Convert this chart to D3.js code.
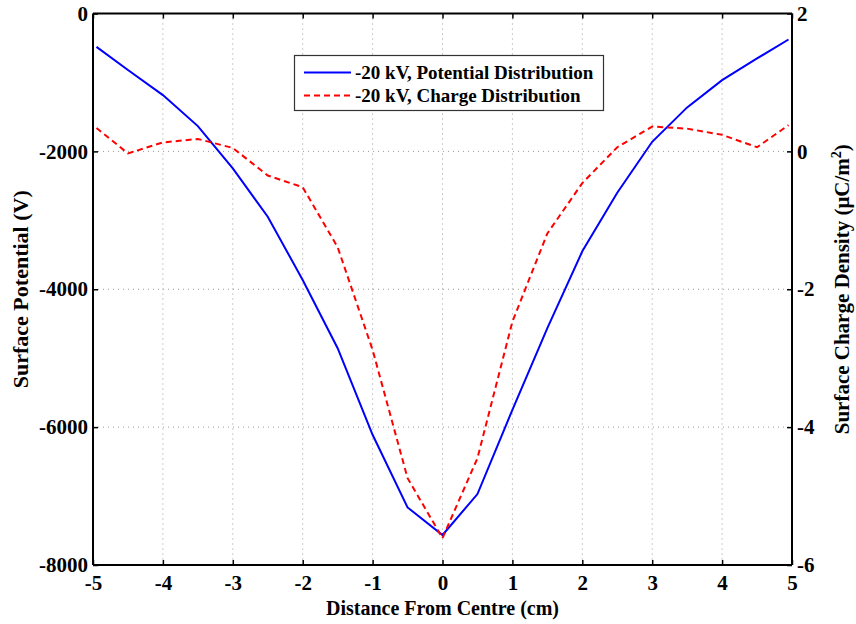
<!DOCTYPE html>
<html><head><meta charset="utf-8">
<script src="https://cdn.jsdelivr.net/npm/d3@7"></script>
<style>
body{margin:0;background:#fff;}
text{font-family:"Liberation Serif","Times New Roman",serif;font-weight:bold;}
</style></head>
<body>
<svg id="c" width="856" height="624"></svg>
<script>
const xPositions = [-4.95,-4.5,-4,-3.5,-3,-2.5,-2,-1.5,-1,-0.5,0,0.5,1,1.5,2,2.5,3,3.5,4,4.5,4.95];
const potential = [-484,-820,-1184,-1633,-2246,-2948,-3865,-4855,-6111,-7165,-7565,-6971,-5749,-4565,-3450,-2600,-1861,-1362,-967,-652,-377];
const charge = [0.34,-0.03,0.13,0.18,0.05,-0.35,-0.52,-1.39,-2.88,-4.74,-5.61,-4.45,-2.47,-1.19,-0.46,0.06,0.36,0.33,0.24,0.06,0.38];
const xTicks = [-5,-4,-3,-2,-1,0,1,2,3,4,5];
const yLeftTicks = [0,-2000,-4000,-6000,-8000];
const yRightTicks = [2,0,-2,-4,-6];
const seriesNames = ["-20 kV, Potential Distribution","-20 kV, Charge Distribution"];

const svg = d3.select("#c");
const L=93,R=792,T=13.5,B=565;
const x = d3.scaleLinear().domain([-5,5]).range([L,R]);
const yL = d3.scaleLinear().domain([-8000,0]).range([B,T]);
const yR = d3.scaleLinear().domain([-6,2]).range([B,T]);
const FONT = "'Liberation Serif','Times New Roman',serif";

// grid
const g = svg.append("g");
g.selectAll("line.gx").data(xTicks.slice(1,-1)).enter().append("line")
 .attr("x1",d=>x(d)).attr("x2",d=>x(d)).attr("y1",T).attr("y2",B)
 .attr("stroke","#999").attr("stroke-width",1).attr("stroke-dasharray","1,4");
g.selectAll("line.gy").data(yLeftTicks.slice(1,-1)).enter().append("line")
 .attr("x1",L).attr("x2",R).attr("y1",d=>yL(d)).attr("y2",d=>yL(d))
 .attr("stroke","#999").attr("stroke-width",1).attr("stroke-dasharray","1,4");

// axes
const fs = "21px";
const ax = svg.append("g").attr("transform",`translate(0,${B})`)
 .call(d3.axisBottom(x).tickValues(xTicks).tickSize(-5).tickPadding(10).tickFormat(d3.format("d")));
const axT = svg.append("g").attr("transform",`translate(0,${T})`)
 .call(d3.axisTop(x).tickValues(xTicks).tickSize(-5).tickFormat(""));
const ayL = svg.append("g").attr("transform",`translate(${L},0)`)
 .call(d3.axisLeft(yL).tickValues(yLeftTicks).tickSize(-5).tickPadding(5).tickFormat(d3.format("d")));
const ayR = svg.append("g").attr("transform",`translate(${R},0)`)
 .call(d3.axisRight(yR).tickValues(yRightTicks).tickSize(-5).tickPadding(5).tickFormat(d3.format("d")));
[ax,axT,ayL,ayR].forEach(a=>{
  a.attr("font-family",FONT).attr("font-size",fs);
  a.select(".domain").attr("stroke","#000").attr("stroke-width",2);
  a.selectAll(".tick line").attr("stroke","#000").attr("stroke-width",1.5);
  a.selectAll("text").style("font-family",FONT).style("font-weight","bold").style("font-size",fs).attr("fill","#000");
});
ax.select(".domain").attr("d",`M${L},0H${R}`);
axT.select(".domain").attr("d",`M${L},0H${R}`);
ayL.select(".domain").attr("d",`M0,${T}V${B}`);
ayR.select(".domain").attr("d",`M0,${T}V${B}`);
ax.selectAll("text").text(d=>d<0?"-"+Math.abs(d):d);
ayL.selectAll("text").text(d=>d<0?"-"+Math.abs(d):d);
ayR.selectAll("text").text(d=>d<0?"-"+Math.abs(d):d);

// lines
const data = xPositions.map((v,i)=>({x:v,p:potential[i],q:charge[i]}));
svg.append("path").datum(data).attr("fill","none").attr("stroke","#0000ff").attr("stroke-width",2)
 .attr("d",d3.line().x(d=>x(d.x)).y(d=>yL(d.p)));
svg.append("path").datum(data).attr("fill","none").attr("stroke","#ff0000").attr("stroke-width",2)
 .attr("stroke-dasharray","6,4")
 .attr("d",d3.line().x(d=>x(d.x)).y(d=>yR(d.q)));

// axis titles
svg.append("text").attr("x",(L+R)/2).attr("y",615).attr("text-anchor","middle").style("font-size","20px").text("Distance From Centre (cm)");
svg.append("text").attr("transform",`translate(28,${(T+B)/2}) rotate(-90)`).attr("text-anchor","middle").style("font-size","22px").text("Surface Potential (V)");
const rt = svg.append("text").attr("transform",`translate(849,${(T+B)/2}) rotate(-90)`).attr("text-anchor","middle").style("font-size","21px");
rt.append("tspan").text("Surface Charge Density (μC/m");
rt.append("tspan").attr("dy",-8).style("font-size","14px").text("2");
rt.append("tspan").attr("dy",8).text(")");

// legend
const lg = svg.append("g");
lg.append("rect").attr("x",294.5).attr("y",55.5).attr("width",309).attr("height",55).attr("fill","#fff").attr("stroke","#333").attr("stroke-width",1.2);
const colors=["#0000ff","#ff0000"], dashes=[null,"6,4"];
seriesNames.forEach((n,i)=>{
  const yy = 72.5 + i*23;
  lg.append("line").attr("x1",304).attr("x2",351).attr("y1",yy).attr("y2",yy).attr("stroke",colors[i]).attr("stroke-width",2).attr("stroke-dasharray",dashes[i]);
  lg.append("text").attr("x",355).attr("y",yy+6).style("font-size","19px").text(n);
});
</script>
</body></html>
